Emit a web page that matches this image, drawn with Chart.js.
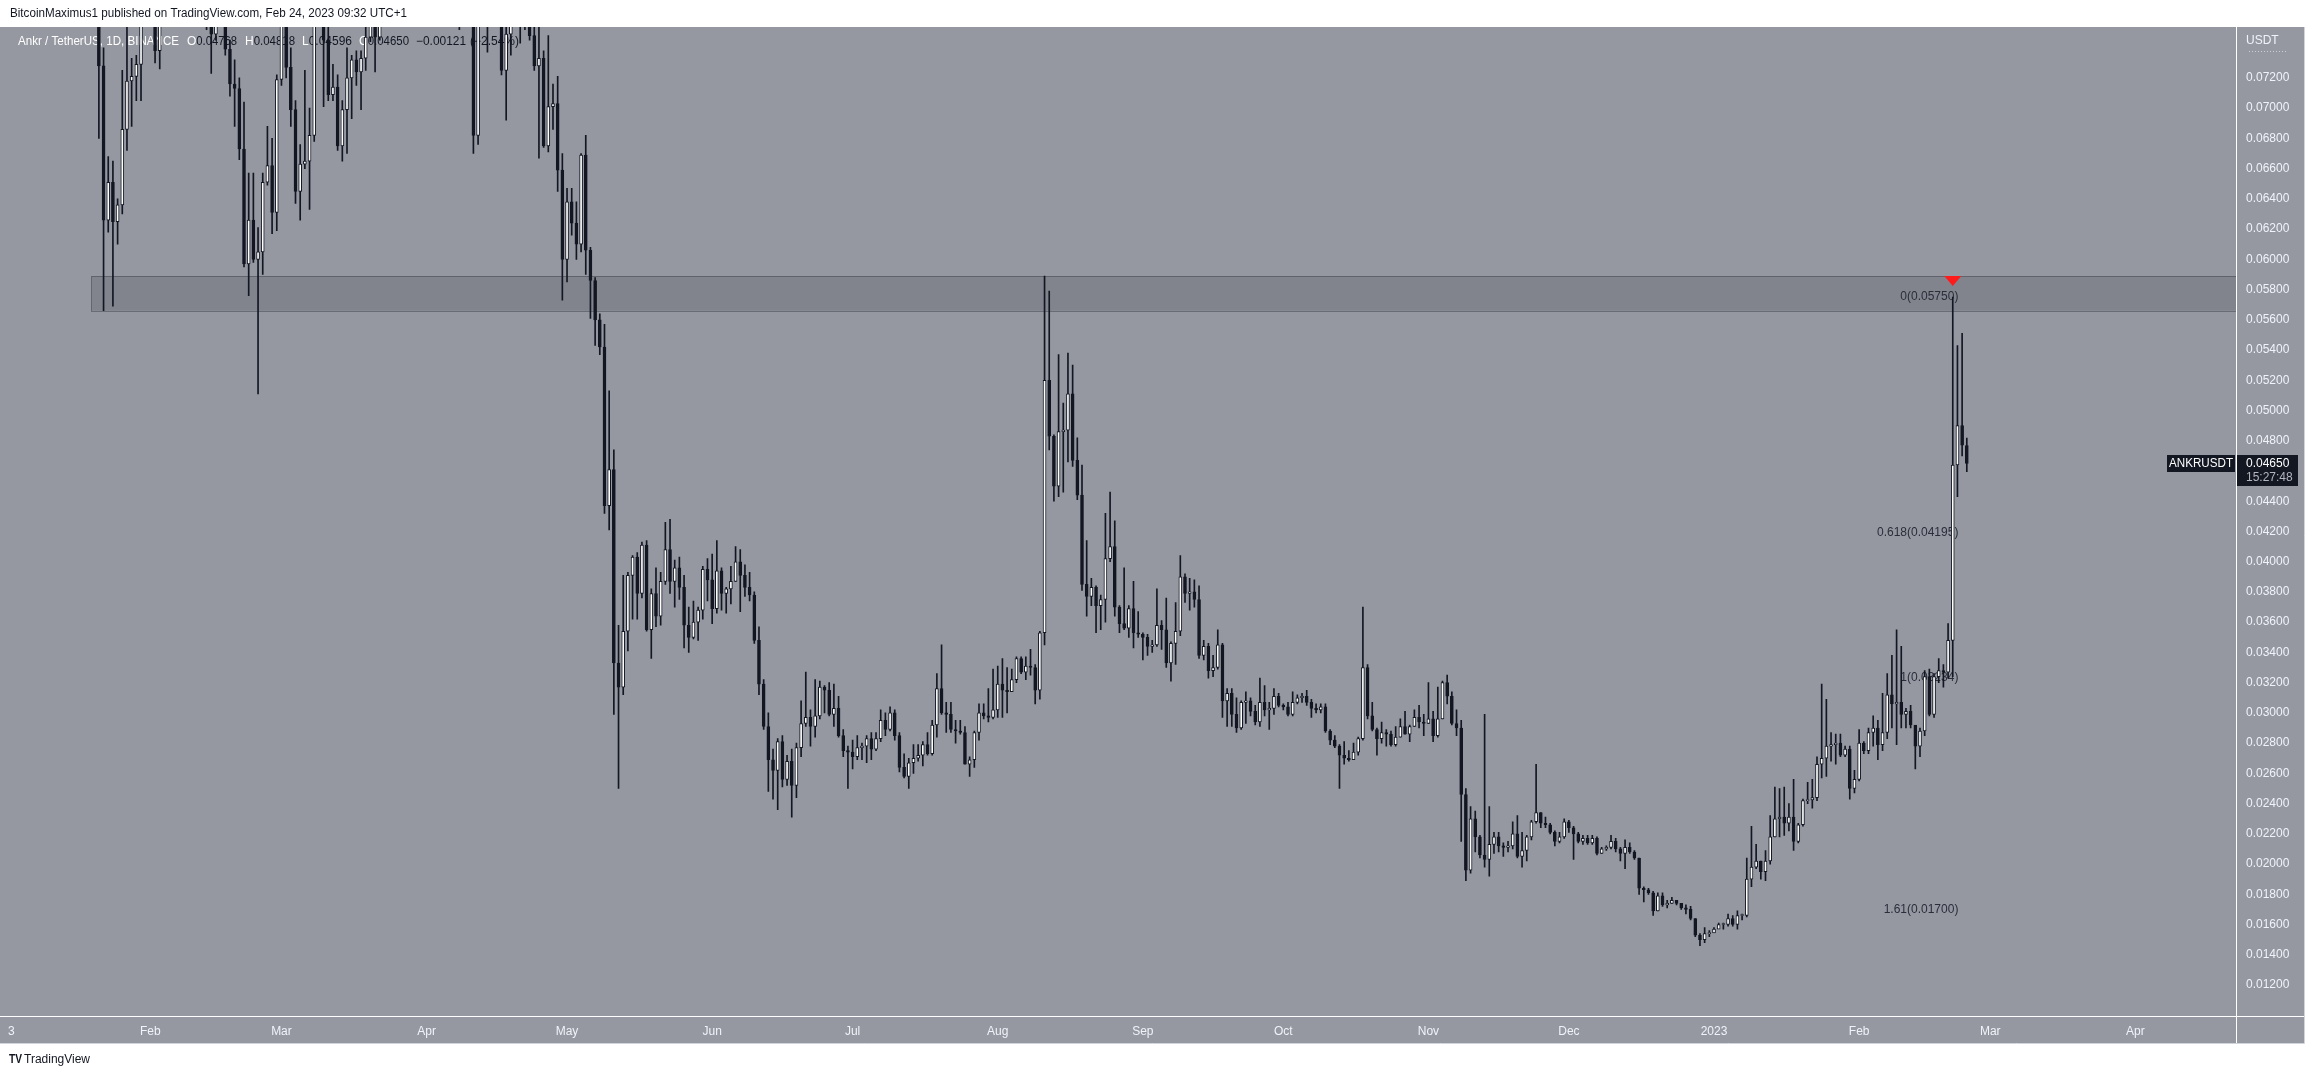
<!DOCTYPE html>
<html>
<head>
<meta charset="utf-8">
<title>ANKRUSDT 1D</title>
<script src="https://cdn.jsdelivr.net/npm/chart.js@4.4.0/dist/chart.umd.min.js"></script>
<style>
  html, body { margin: 0; padding: 0; background: #ffffff; }
  #wrap { position: relative; width: 2314px; height: 1079px; }
</style>
</head>
<body>
<div id="wrap"><canvas id="chart" width="2314" height="1079"></canvas></div>
<script>
"use strict";

// Daily candles, ANKR/USDT (Binance), day 0 = 2022-01-01, last = 2023-02-24
var openP = [
    0.1045, 0.1072, 0.1080, 0.1035, 0.1002, 0.0925, 0.0912, 0.0858, 0.0835, 0.0852,
    0.0822, 0.0880, 0.0930, 0.0902, 0.0912, 0.0921, 0.0930, 0.0893, 0.0882, 0.0871,
    0.0850, 0.0728, 0.0626, 0.0651, 0.0625, 0.0636, 0.0686, 0.0718, 0.0721, 0.0729,
    0.0770, 0.0775, 0.0768, 0.0738, 0.0790, 0.0840, 0.0855, 0.0850, 0.0880, 0.0870,
    0.0850, 0.0820, 0.0790, 0.0780, 0.0775, 0.0749, 0.0775, 0.0780, 0.0739, 0.0716,
    0.0713, 0.0673, 0.0597, 0.0626, 0.0600, 0.0605, 0.0651, 0.0662, 0.0631, 0.0719,
    0.0770, 0.0727, 0.0699, 0.0645, 0.0663, 0.0665, 0.0682, 0.0770, 0.0765, 0.0745,
    0.0709, 0.0714, 0.0675, 0.0699, 0.0720, 0.0732, 0.0724, 0.0733, 0.0747, 0.0760,
    0.0747, 0.0765, 0.0790, 0.0810, 0.0800, 0.0830, 0.0850, 0.0840, 0.0870, 0.0900,
    0.0880, 0.0860, 0.0840, 0.0865, 0.0850, 0.0830, 0.0810, 0.0800, 0.0790, 0.0795,
    0.0790, 0.0682, 0.0780, 0.0800, 0.0775, 0.0785, 0.0790, 0.0725, 0.0749, 0.0775,
    0.0780, 0.0770, 0.0768, 0.0748, 0.0728, 0.0733, 0.0675, 0.0701, 0.0703, 0.0659,
    0.0600, 0.0638, 0.0624, 0.0610, 0.0669, 0.0606, 0.0586, 0.0560, 0.0542, 0.0437,
    0.0461, 0.0333, 0.0317, 0.0354, 0.0391, 0.0403, 0.0379, 0.0411, 0.0355, 0.0379,
    0.0364, 0.0387, 0.0408, 0.0387, 0.0396, 0.0383, 0.0358, 0.0350, 0.0360, 0.0368,
    0.0395, 0.0388, 0.0369, 0.0394, 0.0379, 0.0382, 0.0387, 0.0400, 0.0391, 0.0383,
    0.0378, 0.0348, 0.0319, 0.0291, 0.0269, 0.0262, 0.0281, 0.0256, 0.0268, 0.0252,
    0.0277, 0.0293, 0.0297, 0.0291, 0.0298, 0.0317, 0.0315, 0.0299, 0.0303, 0.0285,
    0.0275, 0.0274, 0.0271, 0.0277, 0.0278, 0.0283, 0.0276, 0.0283, 0.0295, 0.0289,
    0.0300, 0.0285, 0.0264, 0.0258, 0.0267, 0.0270, 0.0272, 0.0279, 0.0273, 0.0292,
    0.0316, 0.0300, 0.0299, 0.0289, 0.0288, 0.0287, 0.0266, 0.0269, 0.0287, 0.0300,
    0.0298, 0.0297, 0.0302, 0.0319, 0.0315, 0.0314, 0.0322, 0.0336, 0.0327, 0.0331,
    0.0330, 0.0315, 0.0353, 0.0520, 0.0483, 0.0450, 0.0486, 0.0487, 0.0511, 0.0467,
    0.0444, 0.0385, 0.0377, 0.0383, 0.0371, 0.0375, 0.0402, 0.0410, 0.0370, 0.0359,
    0.0356, 0.0369, 0.0353, 0.0352, 0.0350, 0.0344, 0.0345, 0.0358, 0.0355, 0.0333,
    0.0346, 0.0354, 0.0390, 0.0379, 0.0380, 0.0375, 0.0338, 0.0344, 0.0328, 0.0330,
    0.0345, 0.0308, 0.0313, 0.0299, 0.0290, 0.0307, 0.0308, 0.0301, 0.0294, 0.0307,
    0.0302, 0.0303, 0.0311, 0.0305, 0.0304, 0.0299, 0.0307, 0.0310, 0.0311, 0.0307,
    0.0303, 0.0302, 0.0304, 0.0288, 0.0282, 0.0278, 0.0272, 0.0270, 0.0269, 0.0274,
    0.0283, 0.0330, 0.0298, 0.0289, 0.0283, 0.0287, 0.0286, 0.0279, 0.0284, 0.0291,
    0.0286, 0.0291, 0.0297, 0.0294, 0.0293, 0.0296, 0.0285, 0.0296, 0.0320, 0.0311,
    0.0293, 0.0290, 0.0246, 0.0196, 0.0230, 0.0218, 0.0206, 0.0203, 0.0213, 0.0218,
    0.0212, 0.0211, 0.0212, 0.0220, 0.0205, 0.0209, 0.0218, 0.0228, 0.0234, 0.0227,
    0.0226, 0.0221, 0.0215, 0.0218, 0.0228, 0.0224, 0.0220, 0.0215, 0.0217, 0.0214,
    0.0217, 0.0207, 0.0210, 0.0211, 0.0215, 0.0210, 0.0207, 0.0211, 0.0208, 0.0204,
    0.0184, 0.0183, 0.0181, 0.0169, 0.0179, 0.0173, 0.0174, 0.0176, 0.0174, 0.0171,
    0.0170, 0.0164, 0.0153, 0.0150, 0.0154, 0.01545, 0.0157, 0.0160, 0.0160, 0.0164,
    0.0160, 0.0166, 0.0166, 0.0190, 0.0198, 0.0202, 0.0195, 0.0202, 0.0218, 0.0230,
    0.0231, 0.0227, 0.0231, 0.0215, 0.0226, 0.0242, 0.02425, 0.0244, 0.0266, 0.0270,
    0.0278, 0.0279, 0.0280, 0.0272, 0.0276, 0.0250, 0.0256, 0.0280, 0.0275, 0.0287,
    0.0290, 0.0279, 0.0287, 0.0312, 0.0306, 0.0307, 0.0299, 0.0301, 0.0292, 0.0278,
    0.0288, 0.0324, 0.0299, 0.0324, 0.0328, 0.0327, 0.0348, 0.0464, 0.0490, 0.04768
];
var highP = [
    0.1090, 0.1110, 0.1090, 0.1050, 0.1010, 0.0945, 0.0925, 0.0870, 0.0870, 0.0860,
    0.0890, 0.0945, 0.0940, 0.0925, 0.0935, 0.0945, 0.0935, 0.0900, 0.0895, 0.0880,
    0.0860, 0.0740, 0.0668, 0.0665, 0.0640, 0.0725, 0.0760, 0.0733, 0.0735, 0.0790,
    0.0800, 0.0790, 0.0785, 0.0800, 0.0850, 0.0870, 0.0880, 0.0900, 0.0920, 0.0890,
    0.0870, 0.0840, 0.0810, 0.0800, 0.0790, 0.0790, 0.0800, 0.0795, 0.0745, 0.0732,
    0.0720, 0.0704, 0.0657, 0.0657, 0.0621, 0.0657, 0.0688, 0.0680, 0.0722, 0.0790,
    0.0785, 0.0740, 0.0705, 0.0676, 0.0725, 0.0700, 0.0790, 0.0790, 0.0780, 0.0760,
    0.0729, 0.0722, 0.0705, 0.0740, 0.0735, 0.0738, 0.0738, 0.0755, 0.0785, 0.0775,
    0.0790, 0.0800, 0.0825, 0.0830, 0.0840, 0.0870, 0.0870, 0.0885, 0.0920, 0.0930,
    0.0890, 0.0870, 0.0880, 0.0875, 0.0860, 0.0840, 0.0825, 0.0815, 0.0810, 0.0810,
    0.0800, 0.0800, 0.0825, 0.0820, 0.0800, 0.0810, 0.0800, 0.0760, 0.0790, 0.0800,
    0.0795, 0.0790, 0.0775, 0.0755, 0.0760, 0.0738, 0.0748, 0.0716, 0.0721, 0.0670,
    0.0647, 0.0647, 0.0638, 0.0670, 0.0682, 0.0608, 0.0588, 0.0564, 0.0557, 0.0513,
    0.0474, 0.0358, 0.0391, 0.0393, 0.0404, 0.0406, 0.0413, 0.0414, 0.0382, 0.0396,
    0.0393, 0.0426, 0.0428, 0.0401, 0.0403, 0.0391, 0.0370, 0.0374, 0.0370, 0.0397,
    0.0402, 0.0405, 0.0414, 0.0396, 0.0383, 0.0397, 0.0410, 0.0408, 0.0398, 0.0393,
    0.0380, 0.0357, 0.0322, 0.0300, 0.0276, 0.0283, 0.0285, 0.0272, 0.0276, 0.0280,
    0.0308, 0.0327, 0.0302, 0.0322, 0.0321, 0.0318, 0.0320, 0.0319, 0.0311, 0.0289,
    0.0278, 0.0282, 0.0285, 0.0280, 0.0285, 0.0287, 0.0287, 0.0302, 0.0300, 0.0304,
    0.0302, 0.0287, 0.0273, 0.0270, 0.0279, 0.0279, 0.0281, 0.0287, 0.0295, 0.0326,
    0.0345, 0.0307, 0.0307, 0.0295, 0.0295, 0.0291, 0.0271, 0.0288, 0.0306, 0.0306,
    0.0316, 0.0329, 0.0331, 0.0336, 0.0330, 0.0329, 0.0337, 0.0337, 0.0337, 0.0342,
    0.0332, 0.0354, 0.0589, 0.0579, 0.0484, 0.0537, 0.0505, 0.0538, 0.0530, 0.0482,
    0.0464, 0.0414, 0.0389, 0.0384, 0.0378, 0.0432, 0.0446, 0.0427, 0.0371, 0.0396,
    0.0371, 0.0387, 0.0367, 0.0353, 0.0352, 0.0348, 0.0382, 0.0361, 0.0376, 0.0347,
    0.0373, 0.0404, 0.0392, 0.0389, 0.0388, 0.0384, 0.0348, 0.0346, 0.0338, 0.0355,
    0.0346, 0.0316, 0.0316, 0.0310, 0.0308, 0.0314, 0.0310, 0.0305, 0.0323, 0.0318,
    0.0307, 0.0316, 0.0313, 0.0306, 0.0307, 0.0314, 0.0312, 0.0313, 0.0315, 0.0309,
    0.0306, 0.0306, 0.0306, 0.0289, 0.0285, 0.0279, 0.0281, 0.0275, 0.0280, 0.0284,
    0.0370, 0.0332, 0.0307, 0.0290, 0.0294, 0.0289, 0.0288, 0.0291, 0.0296, 0.0301,
    0.0292, 0.0302, 0.0305, 0.0299, 0.0320, 0.0301, 0.0317, 0.0321, 0.0325, 0.0314,
    0.0302, 0.0295, 0.0250, 0.0238, 0.0235, 0.0219, 0.0299, 0.0238, 0.0221, 0.0221,
    0.0214, 0.0215, 0.0228, 0.0232, 0.0221, 0.0219, 0.0229, 0.0266, 0.0234, 0.0231,
    0.0227, 0.0222, 0.0221, 0.0230, 0.0229, 0.0225, 0.0221, 0.0219, 0.0219, 0.0219,
    0.0218, 0.0211, 0.0212, 0.0219, 0.0217, 0.0211, 0.0216, 0.0214, 0.0209, 0.0204,
    0.0185, 0.0184, 0.0182, 0.0181, 0.0181, 0.0176, 0.0178, 0.0176, 0.0174, 0.0173,
    0.0172, 0.0164, 0.0154, 0.0158, 0.0156, 0.0158, 0.0161, 0.0161, 0.0167, 0.0166,
    0.0169, 0.0167, 0.0204, 0.0225, 0.0213, 0.0202, 0.0209, 0.0232, 0.0251, 0.0250,
    0.0251, 0.0240, 0.0256, 0.0227, 0.0243, 0.0254, 0.0256, 0.0271, 0.0319, 0.0309,
    0.0287, 0.0286, 0.0286, 0.0278, 0.0278, 0.0262, 0.0289, 0.0281, 0.0290, 0.0298,
    0.0295, 0.0313, 0.0326, 0.0338, 0.0355, 0.0344, 0.0303, 0.0305, 0.0291, 0.0290,
    0.0328, 0.0329, 0.0326, 0.0336, 0.0332, 0.0359, 0.0575, 0.0543, 0.0551, 0.04818
];
var lowP = [
    0.1030, 0.1045, 0.1020, 0.0985, 0.0900, 0.0880, 0.0840, 0.0800, 0.0815, 0.0775,
    0.0815, 0.0870, 0.0890, 0.0885, 0.0900, 0.0910, 0.0880, 0.0865, 0.0860, 0.0830,
    0.0680, 0.0566, 0.0618, 0.0569, 0.0610, 0.0630, 0.0672, 0.0688, 0.0705, 0.0705,
    0.0758, 0.0758, 0.0730, 0.0726, 0.0780, 0.0825, 0.0830, 0.0830, 0.0860, 0.0820,
    0.0800, 0.0780, 0.0755, 0.0752, 0.0723, 0.0745, 0.0758, 0.0735, 0.0708, 0.0688,
    0.0666, 0.0595, 0.0576, 0.0598, 0.0511, 0.0590, 0.0649, 0.0617, 0.0619, 0.0715,
    0.0720, 0.0688, 0.0637, 0.0626, 0.0660, 0.0633, 0.0678, 0.0755, 0.0701, 0.0705,
    0.0705, 0.0672, 0.0665, 0.0670, 0.0693, 0.0715, 0.0699, 0.0725, 0.0744, 0.0724,
    0.0745, 0.0762, 0.0780, 0.0785, 0.0795, 0.0825, 0.0825, 0.0835, 0.0860, 0.0870,
    0.0850, 0.0830, 0.0830, 0.0840, 0.0825, 0.0800, 0.0790, 0.0752, 0.0775, 0.0770,
    0.0670, 0.0676, 0.0760, 0.0737, 0.0760, 0.0762, 0.0722, 0.0692, 0.0735, 0.0760,
    0.0743, 0.0752, 0.0745, 0.0725, 0.0667, 0.0674, 0.0671, 0.0686, 0.0645, 0.0573,
    0.0585, 0.0616, 0.0600, 0.0605, 0.0590, 0.0561, 0.0543, 0.0537, 0.0432, 0.0421,
    0.0299, 0.0250, 0.0312, 0.0341, 0.0362, 0.0362, 0.0376, 0.0354, 0.0336, 0.0357,
    0.0358, 0.0385, 0.0379, 0.0370, 0.0375, 0.0343, 0.0340, 0.0349, 0.0348, 0.0362,
    0.0374, 0.0359, 0.0366, 0.0368, 0.0366, 0.0372, 0.0387, 0.0367, 0.0377, 0.0374,
    0.0346, 0.0312, 0.0289, 0.0248, 0.0243, 0.0236, 0.0251, 0.0252, 0.0231, 0.0244,
    0.0271, 0.0291, 0.0278, 0.0284, 0.0296, 0.0300, 0.0298, 0.0291, 0.0284, 0.0271,
    0.0250, 0.0263, 0.0269, 0.0269, 0.0267, 0.0269, 0.0275, 0.0281, 0.0285, 0.0288,
    0.0282, 0.0261, 0.0257, 0.0250, 0.0260, 0.0268, 0.0265, 0.0272, 0.0272, 0.0284,
    0.0299, 0.0287, 0.0287, 0.0280, 0.0286, 0.0266, 0.0258, 0.0264, 0.0282, 0.0296,
    0.0294, 0.0296, 0.0297, 0.0297, 0.0300, 0.0314, 0.0320, 0.0326, 0.0322, 0.0325,
    0.0306, 0.0309, 0.0345, 0.0474, 0.0440, 0.0443, 0.0446, 0.0466, 0.0463, 0.0441,
    0.0381, 0.0364, 0.0371, 0.0353, 0.0355, 0.0360, 0.0400, 0.0364, 0.0353, 0.0355,
    0.0350, 0.0343, 0.0350, 0.0335, 0.0338, 0.0340, 0.0344, 0.0342, 0.0330, 0.0321,
    0.0332, 0.0351, 0.0373, 0.0368, 0.0370, 0.0336, 0.0335, 0.0323, 0.0324, 0.0329,
    0.0297, 0.0291, 0.0291, 0.0287, 0.0289, 0.0293, 0.0298, 0.0292, 0.0291, 0.0298,
    0.0289, 0.0299, 0.0304, 0.0302, 0.0298, 0.0298, 0.0306, 0.0307, 0.0305, 0.0297,
    0.0300, 0.0300, 0.0287, 0.0279, 0.0277, 0.0250, 0.0266, 0.0268, 0.0269, 0.0272,
    0.0282, 0.0296, 0.0288, 0.0272, 0.0280, 0.0278, 0.0278, 0.0278, 0.0284, 0.0286,
    0.0281, 0.0291, 0.0290, 0.0285, 0.0293, 0.0281, 0.0284, 0.0296, 0.0306, 0.0292,
    0.0285, 0.0215, 0.0189, 0.0194, 0.0208, 0.0204, 0.0198, 0.0192, 0.0207, 0.0208,
    0.0205, 0.0208, 0.0210, 0.0204, 0.0198, 0.0202, 0.0216, 0.0227, 0.0224, 0.0224,
    0.0220, 0.0212, 0.0214, 0.0217, 0.0221, 0.0203, 0.0214, 0.0213, 0.0213, 0.0213,
    0.0206, 0.0207, 0.0209, 0.0210, 0.0208, 0.0202, 0.0197, 0.0207, 0.0203, 0.0180,
    0.0175, 0.0180, 0.0166, 0.0169, 0.0172, 0.0171, 0.0174, 0.0173, 0.0170, 0.0167,
    0.0163, 0.0152, 0.0146, 0.0148, 0.0152, 0.0156, 0.0159, 0.0157, 0.0159, 0.0159,
    0.0157, 0.0163, 0.0165, 0.0185, 0.0197, 0.0190, 0.0189, 0.0200, 0.0218, 0.0218,
    0.0219, 0.0222, 0.0209, 0.0214, 0.0225, 0.0240, 0.0237, 0.0242, 0.0257, 0.0258,
    0.0268, 0.0266, 0.0271, 0.0271, 0.0243, 0.0247, 0.0255, 0.0273, 0.0273, 0.0278,
    0.0269, 0.0275, 0.0283, 0.0290, 0.0279, 0.0290, 0.0290, 0.0290, 0.0263, 0.0271,
    0.0285, 0.0298, 0.0297, 0.0320, 0.0317, 0.0323, 0.0324, 0.0443, 0.0470, 0.04596
];
var closeP = [
    0.1072, 0.1080, 0.1035, 0.1002, 0.0925, 0.0912, 0.0858, 0.0835, 0.0852, 0.0822,
    0.0880, 0.0930, 0.0902, 0.0912, 0.0921, 0.0930, 0.0893, 0.0882, 0.0871, 0.0850,
    0.0728, 0.0626, 0.0651, 0.0625, 0.0636, 0.0686, 0.0718, 0.0721, 0.0729, 0.0770,
    0.0775, 0.0768, 0.0738, 0.0790, 0.0840, 0.0855, 0.0850, 0.0880, 0.0870, 0.0850,
    0.0820, 0.0790, 0.0780, 0.0775, 0.0749, 0.0775, 0.0780, 0.0739, 0.0716, 0.0713,
    0.0673, 0.0597, 0.0626, 0.0600, 0.0605, 0.0651, 0.0662, 0.0631, 0.0719, 0.0770,
    0.0727, 0.0699, 0.0645, 0.0663, 0.0665, 0.0682, 0.0770, 0.0765, 0.0745, 0.0709,
    0.0714, 0.0675, 0.0699, 0.0720, 0.0732, 0.0724, 0.0733, 0.0747, 0.0760, 0.0747,
    0.0765, 0.0790, 0.0810, 0.0800, 0.0830, 0.0850, 0.0840, 0.0870, 0.0900, 0.0880,
    0.0860, 0.0840, 0.0865, 0.0850, 0.0830, 0.0810, 0.0800, 0.0790, 0.0795, 0.0790,
    0.0682, 0.0780, 0.0800, 0.0775, 0.0785, 0.0790, 0.0725, 0.0749, 0.0775, 0.0780,
    0.0770, 0.0768, 0.0748, 0.0728, 0.0733, 0.0675, 0.0701, 0.0703, 0.0659, 0.0600,
    0.0638, 0.0624, 0.0610, 0.0669, 0.0606, 0.0586, 0.0560, 0.0542, 0.0437, 0.0461,
    0.0333, 0.0317, 0.0354, 0.0391, 0.0403, 0.0379, 0.0411, 0.0355, 0.0379, 0.0364,
    0.0387, 0.0408, 0.0387, 0.0396, 0.0383, 0.0358, 0.0350, 0.0360, 0.0368, 0.0395,
    0.0388, 0.0369, 0.0394, 0.0379, 0.0382, 0.0387, 0.0400, 0.0391, 0.0383, 0.0378,
    0.0348, 0.0319, 0.0291, 0.0269, 0.0262, 0.0281, 0.0256, 0.0268, 0.0252, 0.0277,
    0.0293, 0.0297, 0.0291, 0.0298, 0.0317, 0.0315, 0.0299, 0.0303, 0.0285, 0.0275,
    0.0274, 0.0271, 0.0277, 0.0278, 0.0283, 0.0276, 0.0283, 0.0295, 0.0289, 0.0300,
    0.0285, 0.0264, 0.0258, 0.0267, 0.0270, 0.0272, 0.0279, 0.0273, 0.0292, 0.0316,
    0.0300, 0.0299, 0.0289, 0.0288, 0.0287, 0.0266, 0.0269, 0.0287, 0.0300, 0.0298,
    0.0297, 0.0302, 0.0319, 0.0315, 0.0314, 0.0322, 0.0336, 0.0327, 0.0331, 0.0330,
    0.0315, 0.0353, 0.0520, 0.0483, 0.0450, 0.0486, 0.0487, 0.0511, 0.0467, 0.0444,
    0.0385, 0.0377, 0.0383, 0.0371, 0.0375, 0.0402, 0.0410, 0.0370, 0.0359, 0.0356,
    0.0369, 0.0353, 0.0352, 0.0350, 0.0344, 0.0345, 0.0358, 0.0355, 0.0333, 0.0346,
    0.0354, 0.0390, 0.0379, 0.0380, 0.0375, 0.0338, 0.0344, 0.0328, 0.0330, 0.0345,
    0.0308, 0.0313, 0.0299, 0.0290, 0.0307, 0.0308, 0.0301, 0.0294, 0.0307, 0.0302,
    0.0303, 0.0311, 0.0305, 0.0304, 0.0299, 0.0307, 0.0310, 0.0311, 0.0307, 0.0303,
    0.0302, 0.0304, 0.0288, 0.0282, 0.0278, 0.0272, 0.0270, 0.0269, 0.0274, 0.0283,
    0.0330, 0.0298, 0.0289, 0.0283, 0.0287, 0.0286, 0.0279, 0.0284, 0.0291, 0.0286,
    0.0291, 0.0297, 0.0294, 0.0293, 0.0296, 0.0285, 0.0296, 0.0320, 0.0311, 0.0293,
    0.0290, 0.0246, 0.0196, 0.0230, 0.0218, 0.0206, 0.0203, 0.0213, 0.0218, 0.0212,
    0.0211, 0.0212, 0.0220, 0.0205, 0.0209, 0.0218, 0.0228, 0.0234, 0.0227, 0.0226,
    0.0221, 0.0215, 0.0218, 0.0228, 0.0224, 0.0220, 0.0215, 0.0217, 0.0214, 0.0217,
    0.0207, 0.0210, 0.0211, 0.0215, 0.0210, 0.0207, 0.0211, 0.0208, 0.0204, 0.0184,
    0.0183, 0.0181, 0.0169, 0.0179, 0.0173, 0.0174, 0.0176, 0.0174, 0.0171, 0.0170,
    0.0164, 0.0153, 0.0150, 0.0154, 0.01545, 0.0157, 0.0160, 0.0160, 0.0164, 0.0160,
    0.0166, 0.0166, 0.0190, 0.0198, 0.0202, 0.0195, 0.0202, 0.0218, 0.0230, 0.0231,
    0.0227, 0.0231, 0.0215, 0.0226, 0.0242, 0.02425, 0.0244, 0.0266, 0.0270, 0.0278,
    0.0279, 0.0280, 0.0272, 0.0276, 0.0250, 0.0256, 0.0280, 0.0275, 0.0287, 0.0290,
    0.0279, 0.0287, 0.0312, 0.0306, 0.0307, 0.0299, 0.0301, 0.0292, 0.0278, 0.0288,
    0.0324, 0.0299, 0.0324, 0.0328, 0.0327, 0.0348, 0.0464, 0.0490, 0.04771, 0.0465
];

// axes
var tickDays = [1.3, 31, 59, 90, 120, 151, 181, 212, 243, 273, 304, 334, 365, 396, 424, 455];
var tickLabels = ['3', 'Feb', 'Mar', 'Apr', 'May', 'Jun', 'Jul', 'Aug', 'Sep', 'Oct', 'Nov', 'Dec', '2023', 'Feb', 'Mar', 'Apr'];
var priceTicks = [
    0.012, 0.014, 0.016, 0.018, 0.020, 0.022, 0.024, 0.026, 0.028, 0.030,
    0.032, 0.034, 0.036, 0.038, 0.040, 0.042, 0.044, 0.046, 0.048, 0.050,
    0.052, 0.054, 0.056, 0.058, 0.060, 0.062, 0.064, 0.066, 0.068, 0.070, 0.072
];

// drawings
var zoneFromDay = 18.4;
var zoneTop = 0.0589;
var zoneBottom = 0.0566;
var fibLevels = ['0', '0.618', '1', '1.61'];
var fibPrices = [0.0575, 0.04195, 0.03234, 0.017];
var fibLabelDay = 417.2;
var markerDay = 416;
var markerPrice = 0.0589;

var PANEL = '#9598a1';
var ZONE = 'rgba(60, 63, 72, 0.22)';
var AXIS_TEXT = '#f0f3fa';
var DARK = '#131722';
var FONT = '"Liberation Sans", Arial, sans-serif';

Chart.defaults.font.family = FONT;
Chart.defaults.font.size = 12;

var wickData = [];
var bodyData = [];
for (var i = 0; i < closeP.length; i++) {
    wickData.push({ x: i, y: [lowP[i], highP[i]] });
    bodyData.push({ x: i, y: [openP[i], closeP[i]] });
}

function isUp(i) {
    return closeP[i] >= openP[i];
}

var panelPlugin = {
    id: 'panel',
    beforeDraw: function (chart) {
        var ctx = chart.ctx;
        ctx.save();
        ctx.fillStyle = '#ffffff';
        ctx.fillRect(0, 0, chart.width, chart.height);
        ctx.fillStyle = PANEL;
        ctx.fillRect(0, 27, 2304, 1016);
        ctx.restore();
    },
    beforeDatasetsDraw: function (chart) {
        var ctx = chart.ctx;
        var xs = chart.scales.x, ys = chart.scales.y;
        var area = chart.chartArea;
        ctx.save();
        // resistance zone
        var zx = xs.getPixelForValue(zoneFromDay);
        var zt = ys.getPixelForValue(zoneTop);
        var zb = ys.getPixelForValue(zoneBottom);
        ctx.fillStyle = ZONE;
        ctx.fillRect(zx, zt, area.right - zx, zb - zt);
        ctx.strokeStyle = 'rgba(70, 73, 82, 0.55)';
        ctx.lineWidth = 1;
        ctx.strokeRect(Math.round(zx) + 0.5, Math.round(zt) + 0.5, area.right - Math.round(zx), Math.round(zb - zt));

        // fib labels
        ctx.font = '12px ' + FONT;
        ctx.fillStyle = '#2a2e39';
        ctx.textAlign = 'right';
        ctx.textBaseline = 'middle';
        var fx = xs.getPixelForValue(fibLabelDay);
        for (var k = 0; k < fibLevels.length; k++) {
            ctx.fillText(fibLevels[k] + '(' + fibPrices[k].toFixed(5) + ')', fx, ys.getPixelForValue(fibPrices[k]));
        }

        // legend line
        ctx.textAlign = 'left';
        ctx.fillStyle = '#ffffff';
        ctx.fillText('Ankr / TetherUS, 1D, BINANCE', 18, 42, 161);
        var last = closeP.length - 1;
        var prev = closeP[last - 1];
        var parts = [
            ['O', openP[last].toFixed(5), 187],
            ['H', highP[last].toFixed(5), 245],
            ['L', lowP[last].toFixed(5), 302],
            ['C', closeP[last].toFixed(5), 359]
        ];
        parts.forEach(function (p) {
            ctx.fillStyle = '#ffffff';
            ctx.fillText(p[0], p[2], 42);
            var w = ctx.measureText(p[0]).width;
            ctx.fillStyle = DARK;
            ctx.fillText(p[1], p[2] + w, 42, 50 - w);
        });
        var chg = closeP[last] - prev;
        ctx.fillStyle = DARK;
        ctx.fillText('\u2212' + Math.abs(chg).toFixed(5), 416, 42, 50);
        ctx.fillText('(\u2212' + Math.abs(chg / prev * 100).toFixed(2) + '%)', 470, 42, 49);
        ctx.restore();
    },
    afterDraw: function (chart) {
        var ctx = chart.ctx;
        var xs = chart.scales.x, ys = chart.scales.y;
        var area = chart.chartArea;
        ctx.save();

        // red marker above the high
        var mx = xs.getPixelForValue(markerDay);
        var my = ys.getPixelForValue(markerPrice);
        ctx.fillStyle = '#ff1b1b';
        ctx.beginPath();
        ctx.moveTo(mx - 8.5, my);
        ctx.lineTo(mx + 8.5, my);
        ctx.lineTo(mx, my + 10);
        ctx.closePath();
        ctx.fill();

        // pane separators
        ctx.strokeStyle = '#ffffff';
        ctx.lineWidth = 1;
        ctx.beginPath();
        ctx.moveTo(area.right + 0.5, 27);
        ctx.lineTo(area.right + 0.5, 1043);
        ctx.moveTo(0, area.bottom + 0.5);
        ctx.lineTo(2304, area.bottom + 0.5);
        ctx.stroke();
        ctx.strokeStyle = '#d1d4dc';
        ctx.beginPath();
        ctx.moveTo(2304.5, 27);
        ctx.lineTo(2304.5, 1043.5);
        ctx.lineTo(0, 1043.5);
        ctx.stroke();

        // currency
        ctx.font = '12px ' + FONT;
        ctx.textBaseline = 'middle';
        ctx.textAlign = 'left';
        ctx.fillStyle = AXIS_TEXT;
        ctx.fillText('USDT', 2246, 41);
        ctx.strokeStyle = 'rgba(240, 243, 250, 0.6)';
        ctx.setLineDash([1, 2]);
        ctx.beginPath();
        ctx.moveTo(2249, 51.5);
        ctx.lineTo(2286, 51.5);
        ctx.stroke();
        ctx.setLineDash([]);

        // last price labels
        var last = closeP.length - 1;
        var ly = Math.round(ys.getPixelForValue(closeP[last]));
        ctx.fillStyle = DARK;
        ctx.fillRect(2167, ly - 8, 68, 17);
        ctx.fillRect(area.right + 1, ly - 8, 61, 31);
        ctx.fillStyle = '#ffffff';
        ctx.textAlign = 'center';
        ctx.fillText('ANKRUSDT', 2201, ly + 0.5, 64);
        ctx.textAlign = 'left';
        ctx.fillText(closeP[last].toFixed(5), 2246, ly + 0.5);
        ctx.fillStyle = '#b2b5be';
        ctx.fillText('15:27:48', 2246, ly + 15);

        // attribution
        ctx.fillStyle = DARK;
        ctx.fillText('BitcoinMaximus1 published on TradingView.com, Feb 24, 2023 09:32 UTC+1', 10, 14, 397);
        ctx.font = 'bold 12px ' + FONT;
        ctx.fillText('TV', 9, 1060, 13);
        ctx.font = '12px ' + FONT;
        ctx.fillText('TradingView', 24, 1060, 79);
        ctx.restore();
    }
};

var chart = new Chart(document.getElementById('chart'), {
    type: 'bar',
    data: {
        datasets: [{
            label: 'body',
            data: bodyData,
            order: 0,
            grouped: false,
            barThickness: 3,
            minBarLength: 1,
            borderWidth: 1,
            borderSkipped: false,
            borderColor: DARK,
            backgroundColor: function (c) {
                return isUp(c.dataIndex) ? '#ffffff' : DARK;
            }
        }, {
            label: 'wick',
            data: wickData,
            order: 1,
            grouped: false,
            barThickness: 1,
            borderWidth: 0,
            backgroundColor: DARK
        }]
    },
    options: {
        responsive: false,
        animation: false,
        events: [],
        layout: { padding: { left: 0, right: 10, top: 27, bottom: 36 } },
        plugins: {
            legend: { display: false },
            tooltip: { enabled: false }
        },
        scales: {
            x: {
                type: 'linear',
                min: -0.85,
                max: 476.5,
                offset: false,
                grid: { display: false, drawTicks: false },
                border: { display: false },
                afterBuildTicks: function (scale) {
                    scale.ticks = tickDays.map(function (d) { return { value: d }; });
                },
                afterFit: function (scale) { scale.height = 27; },
                ticks: {
                    autoSkip: false,
                    maxRotation: 0,
                    padding: 8,
                    color: AXIS_TEXT,
                    callback: function (value, index) { return tickLabels[index]; }
                }
            },
            y: {
                type: 'linear',
                position: 'right',
                min: 0.00995,
                max: 0.07537,
                grid: { display: false, drawTicks: false },
                border: { display: false },
                afterBuildTicks: function (scale) {
                    scale.ticks = priceTicks.map(function (v) { return { value: v }; });
                },
                afterFit: function (scale) { scale.width = 68; },
                ticks: {
                    padding: 10,
                    color: AXIS_TEXT,
                    callback: function (value) { return value.toFixed(5); }
                }
            }
        }
    },
    plugins: [panelPlugin]
});
</script>
</body>
</html>
